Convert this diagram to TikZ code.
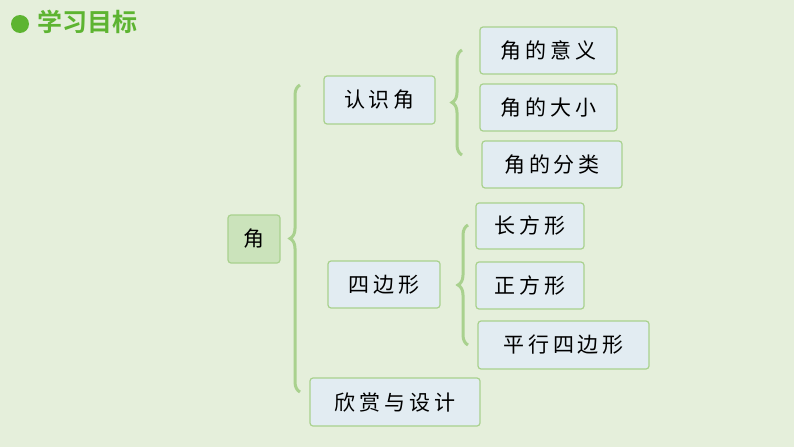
\documentclass[tikz,border=0pt]{standalone}
\usepackage{fontspec}
\newfontfamily\cjk[LetterSpace=18]{Noto Sans CJK SC}
\newfontfamily\cjkb{Noto Sans CJK SC Bold}
\usetikzlibrary{decorations.pathreplacing}
\definecolor{bg}{HTML}{E5EFDB}
\definecolor{bx}{HTML}{E2ECF2}
\definecolor{bd}{HTML}{A9D18E}
\definecolor{gr}{HTML}{5DB431}
\tikzset{
 box/.style={draw=bd,line width=1.2pt,fill=bx,rounded corners=3pt,inner sep=0pt,font=\cjk\fontsize{21}{21}\selectfont},
 br/.style={draw=bd,line width=3pt,decorate,decoration={brace,amplitude=10pt}}
}
\begin{document}
\begin{tikzpicture}[x=1pt,y=-1pt]
\fill[bg] (0,0) rectangle (794,447);
\useasboundingbox (0,0) rectangle (794,447);
\fill[gr] (20,24) circle (9);
\node[anchor=west,text=gr,font=\cjkb\fontsize{25}{25}\selectfont] (title) at (34,22) {学习目标};
\node[box,fill=bd!60,minimum width=52pt,minimum height=48pt] (jiao) at (254,239) {角};
\node[box,minimum width=111pt,minimum height=48pt] (rs) at (379.5,100) {认识角};
\node[box,minimum width=137pt,minimum height=47pt] (a1) at (548.5,50.5) {角的意义};
\node[box,minimum width=137pt,minimum height=47pt] (a2) at (548.5,107.5) {角的大小};
\node[box,minimum width=140pt,minimum height=47pt] (a3) at (552,164.5) {角的分类};
\node[box,minimum width=112pt,minimum height=47pt] (sb) at (384,284.5) {四边形};
\node[box,minimum width=108pt,minimum height=46pt] (b1) at (530,226) {长方形};
\node[box,minimum width=108pt,minimum height=47pt] (b2) at (530,285.5) {正方形};
\node[box,minimum width=171pt,minimum height=48pt] (b3) at (563.5,345) {平行四边形};
\node[box,minimum width=170pt,minimum height=48pt] (xs) at (395,402) {欣赏与设计};
\draw[br] (300,392) -- (300,85);
\draw[br] (462,155) -- (462,50);
\draw[br] (468,345) -- (468,225);
\end{tikzpicture}
\end{document}
